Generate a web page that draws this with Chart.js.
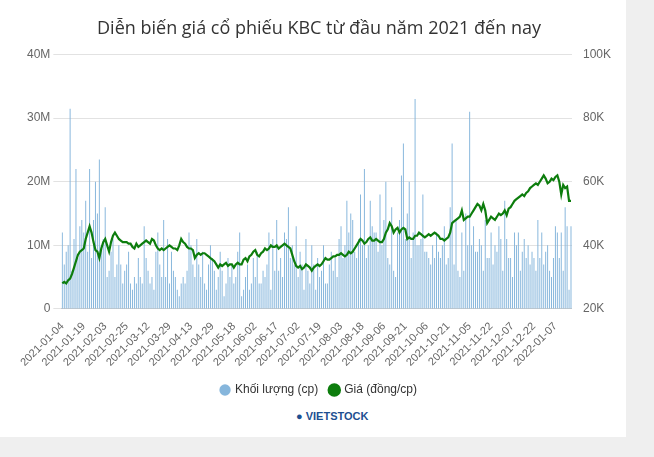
<!DOCTYPE html>
<html>
<head>
<meta charset="utf-8">
<script src="https://cdn.jsdelivr.net/npm/chart.js@4"></script>
<style>
  body { margin: 0; background: #efefef; font-family: "Open Sans", sans-serif; }
  #box { position: absolute; left: 0; top: 0; width: 626px; height: 437px; background: #fff; }
  #logo { position: absolute; left: 296px; top: 410px; font: bold 11px "Liberation Sans"; color: #1d4f91; }
</style>
</head>
<body>
<div id="box"><canvas id="c" width="626" height="408"></canvas></div>
<div id="logo">● VIETSTOCK</div>
<script>
const tickLabels = ["2021-01-04","2021-01-19","2021-02-03","2021-02-25","2021-03-12","2021-03-29",
  "2021-04-13","2021-04-29","2021-05-18","2021-06-02","2021-06-17","2021-07-02","2021-07-19",
  "2021-08-03","2021-08-18","2021-09-06","2021-09-21","2021-10-06","2021-10-21","2021-11-05",
  "2021-11-22","2021-12-07","2021-12-22","2022-01-07"];

// price, thousand VND
const price = [
  28,28.5,28,29,29.5,31,33,35,37,38,38.5,
  39,42,44,46,44,41,38.5,38,36,39,41,
  42,40,38,41,43,44,43,42,41.5,41,41,
  41,40.5,40.5,39.5,39,40.5,39.5,40,40.5,41,41.5,
  41,40.5,42,41.5,40,39,38.5,39,38.5,39,39.5,
  40,39.5,39,39,38.5,40,42,41,40.5,39.5,39,
  39,38.5,36,37,37.5,37,37.5,37.5,37,36.5,36,
  35.5,35,34,33,34,33.5,34,34.5,33.5,34,34,
  33,34,34.5,34,34,35.5,36,35,36.5,37,38,
  38.5,37,36.5,37.5,38,39,38.5,39,40,39.5,39.5,
  40,39,39.5,40,40.5,40,39.5,39,37,35,33.5,
  33,33.5,32.5,33,34,33.5,33,32,33,33.5,34,
  33.5,34,35,36,35.5,35.5,36,36.5,36.5,37,37,
  37.5,37,36.5,37,38,37.5,38,39,40,41,42,
  41.5,40.5,41,42,42.5,41.5,41.5,42,41.5,41,41,
  42,44,45,47,46,44,45,45.5,44,45,45.5,
  45,42,42.5,42,42,43,43,44,43.5,43,42.5,
  43,43.5,43,43.5,44,43.5,43,42,42,41.5,42,
  42.5,44,47,47.5,48,48.5,49,51,48,48.5,49,
  49,50,51,52,53,52.5,51,53,51,47,48,
  49,48.5,48,49,50,49.5,50,51,49.5,51.5,52,
  53,54,54.5,55,55.5,56,55.5,56.5,57,58,58.5,
  59,59.5,59,60,61,62,61,59.5,60,61,60.5,
  61.5,62,60,56,59,58,58.5,54,54
];

// volume, million shares
const volume = [
  12,7,9,10,31.5,6,11,22,8,13,14,
  12,17,9,22,8,14,20,15,23.5,10,11,
  16,5,6,9,11,5,7,10,7,4,6,
  7,9,4,3,5,4,8,5,4,13,8,
  6,4,5,3,9,12,7,5,14,5,11,
  4,9,6,5,3,2,4,5,4,6,12,
  10,7,5,11,7,5,9,4,3,7,10,
  8,6,3,5,9,6,2,4,8,5,7,
  4,5,9,12,2,3,5,7,3,4,8,
  5,9,4,4,6,5,7,12,3,11,6,
  14,6,8,5,12,11,16,8,10,7,13,
  5,9,7,3,11,6,4,10,7,3,8,
  5,6,10,4,4,7,9,6,8,5,11,
  13,8,10,17,12,15,14,9,8,11,18,
  10,22,8,10,17,13,12,12,9,18,10,
  14,20,8,7,16,6,5,12,14,21,26,
  11,15,20,8,12,33,10,10,11,18,9,
  9,8,7,10,8,12,9,8,10,13,7,
  8,16,26,7,14,6,5,12,6,15,10,
  31,10,13,9,9,11,10,6,14,8,8,
  12,7,10,9,13,11,6,17,11,8,8,
  5,12,10,12,6,9,11,8,10,7,9,
  8,6,14,8,12,7,9,10,6,5,8,
  13,12,8,12,6,16,13,3,13
];

const labels = volume.map((_, i) => (i % 11 === 0 ? tickLabels[i / 11] : ""));

new Chart(document.getElementById("c"), {
  data: {
    labels,
    datasets: [
      {
        type: "line",
        label: "Giá (đồng/cp)",
        data: price.map((v) => v * 1000),
        yAxisID: "y1",
        borderColor: "#0d7d0d",
        backgroundColor: "#0d7d0d",
        borderWidth: 2.2,
        pointRadius: 0,
        tension: 0,
      },
      {
        type: "bar",
        label: "Khối lượng (cp)",
        data: volume.map((v) => v * 1e6),
        yAxisID: "y",
        backgroundColor: "#86b6dc",
        borderColor: "#86b6dc",
        barPercentage: 0.5,
        categoryPercentage: 1,
      },
    ],
  },
  options: {
    responsive: false,
    animation: false,
    layout: { padding: { left: 24, right: 12, top: 0, bottom: 2 } },
    plugins: {
      title: {
        display: true,
        text: "Diễn biến giá cổ phiếu KBC từ đầu năm 2021 đến nay",
        color: "#333",
        font: { size: 18, weight: "normal", family: "Open Sans" },
        padding: { top: 18, bottom: 15 },
      },
      legend: {
        position: "bottom",
        reverse: true,
        labels: { usePointStyle: true, pointStyle: "circle", boxWidth: 8, boxHeight: 8, color: "#333", font: { size: 12 }, padding: 12 },
      },
      tooltip: { enabled: false },
    },
    scales: {
      x: {
        grid: { display: false },
        ticks: { autoSkip: false, maxRotation: 45, minRotation: 45, color: "#666", font: { size: 11 },
          callback: (v, i) => labels[i] },
      },
      y: {
        position: "left",
        min: 0, max: 40e6,
        ticks: { stepSize: 10e6, color: "#666", font: { size: 12 }, callback: (v) => (v === 0 ? "0" : v / 1e6 + "M") },
        grid: { color: "#e2e2e2" },
        border: { display: false },
      },
      y1: {
        position: "right",
        min: 20000, max: 100000,
        ticks: { stepSize: 20000, color: "#666", font: { size: 12 }, callback: (v) => v / 1000 + "K" },
        grid: { display: false },
        border: { display: false },
      },
    },
  },
});
</script>
</body>
</html>
